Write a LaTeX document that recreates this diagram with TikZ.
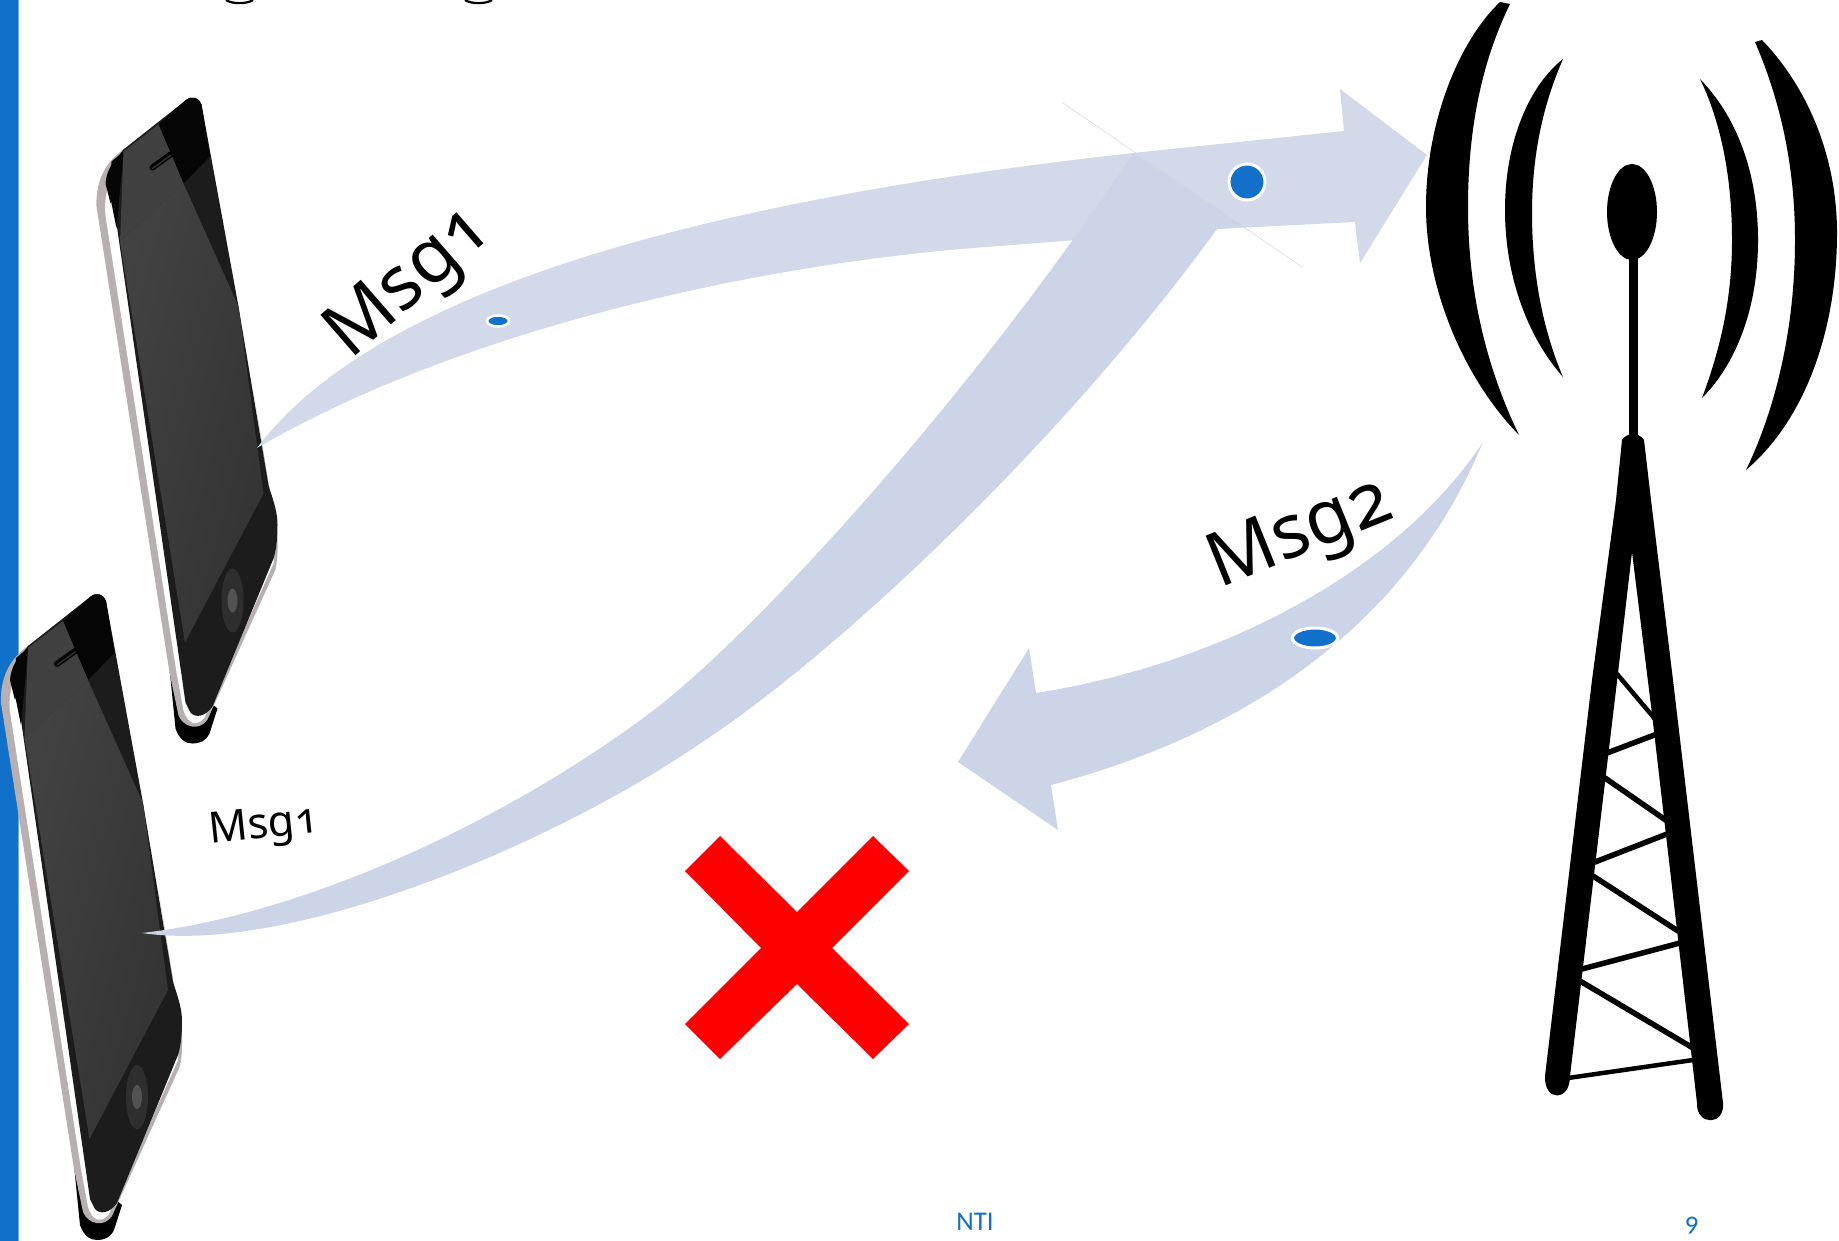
\documentclass[tikz,border=0pt]{standalone}
\usepackage{fontspec}
\setmainfont{Carlito}[Numbers=OldStyle]
\newfontfamily\msgfont{Noto Sans}[Numbers=OldStyle]
\usetikzlibrary{shapes.geometric}
\definecolor{slideblue}{HTML}{1170C9}
\definecolor{barlight}{HTML}{6AA8E4}
\definecolor{arrowA}{HTML}{D2D9E9}
\definecolor{arrowB}{HTML}{CCD5E8}
\definecolor{silver}{HTML}{B8B0B0}
\definecolor{facedark}{HTML}{1C1C1C}
\tikzset{
  msg/.style={inner sep=0pt,text=black,font=\msgfont\fontsize{75}{75}\selectfont},
  foot/.style={inner sep=0pt,text=slideblue,font=\fontsize{27}{27}\selectfont},
  blip/.style={ellipse,fill=slideblue,draw=white,inner sep=0pt,line width=3pt},
  strut/.style={line width=#1,line cap=round,black},
  phone/.pic={
    % black back
    \fill[black] (74,1165) -- (80,1225) .. controls (84,1236) and (90,1240) .. (97,1240)
      .. controls (104,1240) and (110,1238) .. (114,1230) -- (122,1205) -- cycle;
    % silver rim
    \fill[silver] (28,646) .. controls (8,660) and (0,680) .. (1,703) -- (74,1169)
      -- (83,1212) .. controls (88,1224) and (104,1228) .. (112,1216)
      -- (180,1066) .. controls (183,1050) and (183,1035) .. (180,1021) -- (160,900) -- (96,600) -- cycle;
    % white chrome
    \fill[white] (14,680) .. controls (10,690) and (9,700) .. (10,712) -- (81,1169)
      -- (88,1207) .. controls (93,1222) and (102,1223) .. (109,1214)
      -- (178,1060) -- (178,1021) -- (160,900) -- (96,600) -- cycle;
    % front face
    \fill[facedark] (28,646) -- (90,597) .. controls (97,591) and (104,595) .. (106,601)
      -- (143,803) -- (173,982) .. controls (179,1000) and (182,1010) .. (182,1021)
      .. controls (182,1040) and (180,1048) .. (178,1055)
      -- (117,1203) .. controls (110,1213) and (100,1215) .. (95,1209)
      -- (90,1199) -- (21,720) .. controls (15,690) and (10,668) .. (28,646) -- cycle;
    % upper black parts
    \fill[black!98] (63,621) -- (90,597) .. controls (97,591) and (104,595) .. (106,601)
      -- (114.5,653) -- (88,680) -- cycle;
    \fill[black!98] (16,658) -- (28,648) -- (21,725) -- (14,690) -- cycle;
    \fill[black!98] (10,680) .. controls (11,668) and (16,660) .. (22,654) -- (18,690) -- (15,700) -- cycle;
    % glass
    \fill[black!75] (28,648) -- (63,621) -- (88,680) -- (24.5,738) -- cycle;
    \shade[top color=black!74,middle color=black!69,bottom color=black!80,shading angle=75]
      (24.5,738) -- (88,680) -- (143,803) -- (168,990) -- (89.5,1139) -- cycle;
    % speaker
    \draw[line width=6pt,black,line cap=round] (57,664) -- (75,651);
    \draw[line width=1.6pt,black!82,line cap=round] (57,665) -- (75,652);
    % home button
    \fill[black!82] (137,1097) ellipse [x radius=11,y radius=32];
    \fill[black!68] (137,1097) ellipse [x radius=5,y radius=12];
  }
}
\begin{document}
\begin{tikzpicture}[x=1pt,y=-1pt]
  \useasboundingbox (0,0) rectangle (1839,1241);
  \fill[white] (0,0) rectangle (1839,1241);
  % side bar
  \fill[barlight] (0,0) rectangle (18.5,1241);
  \fill[slideblue] (0,0) rectangle (17.5,1241);
  % clipped title descenders
  \draw[line width=2.2pt,black] (226,0) .. controls (232,4.2) and (247,4.2) .. (253,0);
  \draw[line width=2.2pt,black] (465,0) .. controls (471,4.2) and (486,4.2) .. (492,0);
  % phones
  \pic at (0,0) {phone};
  \pic at (95.5,-496.5) {phone};
  % anchor points of the arrows
  \coordinate (tailA) at (257,448);
  \coordinate (tipA) at (1427,155);
  \coordinate (tailB) at (142,933);
  \coordinate (tailC) at (1483,442);
  \coordinate (tipC) at (958,762);
  % arrow 1
  \fill[arrowA] (tailA) .. controls (395,265) and (800,190) .. (1133,153)
    -- (1344,131) -- (1340,89) -- (tipA) -- (1360,263) -- (1355,222)
    -- (1217,229) -- (1000,246)
    .. controls (760,262) and (460,330) .. (tailA) -- cycle;
  % arrow 2
  \draw[arrowB,line width=0.5pt] (1063,103) -- (1302,267);
  \fill[arrowB] (tailB) .. controls (300,915) and (500,825) .. (650,713)
    .. controls (750,638) and (965,405) .. (1133,153)
    -- (1243,227) -- (1217,229)
    .. controls (1060,445) and (835,655) .. (701,743)
    .. controls (552,845) and (290,955) .. (tailB) -- cycle;
  % arrow 3
  \fill[arrowB] (tailC) .. controls (1395,575) and (1215,665) .. (1036,693)
    -- (1029,648) -- (tipC) -- (1058,830) -- (1051,785)
    .. controls (1240,735) and (1405,630) .. (tailC) -- cycle;
  % blips
  \node[blip,minimum width=22pt,minimum height=11pt,line width=2.5pt] (blipA) at (498,321) {};
  \node[blip,minimum width=36pt,minimum height=36pt] (blipB) at (1247,182) {};
  \node[blip,minimum width=45pt,minimum height=20pt] (blipC) at (1315,638) {};
  % labels
  \node[msg,rotate=41] (labelA) at (411,284) {Msg1};
  \node[msg,rotate=22] (labelC) at (1301,536) {Msg2};
  \node[msg,rotate=6,font=\msgfont\fontsize{43}{43}\selectfont] (labelB) at (264,828) {Msg1};
  \node[foot] (nti) at (975,1222) {NTI};
  \node[foot] (page) at (1692,1226) {9};
  % red cross
  \fill[red] (720,836) -- (797,912) -- (873,836) -- (909,871) -- (832,948) -- (909,1024)
    -- (873,1059) -- (797,984) -- (720,1059) -- (685,1024) -- (761,948) -- (685,871) -- cycle;
  % tower
  \fill[black] (1632,212) ellipse [x radius=25,y radius=48];
  \fill[black] (1628.5,255) rectangle (1637.5,445);
  \fill[black] (1622,440) .. controls (1627,432) and (1639,432) .. (1644,440)
    -- (1651,500) -- (1673,680) -- (1723,1103)
    .. controls (1725,1126) and (1696,1126) .. (1697,1103)
    -- (1652,714) -- (1632,552) -- (1618,673) -- (1570,1076)
    .. controls (1570,1102) and (1544,1102) .. (1545,1076)
    -- (1592,680) -- (1616,500) -- cycle;
  \draw[strut=4.5pt] (1617,674) -- (1655,719);
  \draw[strut=5.5pt] (1607,753) -- (1657,734);
  \draw[strut=5.5pt] (1605,778) -- (1667,821);
  \draw[strut=5.5pt] (1595,862) -- (1667,834);
  \draw[strut=5.5pt] (1593,876) -- (1678,931);
  \draw[strut=5.5pt] (1582,969) -- (1680,943);
  \draw[strut=5.5pt] (1580,981) -- (1693,1048);
  \draw[strut=4.5pt] (1568,1078) -- (1693,1060);
  % radio waves
  \fill[black] (1500,2) .. controls (1460,40) and (1426,120) .. (1426,207)
    .. controls (1426,290) and (1465,380) .. (1519,435)
    .. controls (1490,375) and (1468,300) .. (1468,207)
    .. controls (1468,120) and (1485,55) .. (1510,4) -- cycle;
  \fill[black] (1563,59) .. controls (1530,85) and (1505,140) .. (1505,210)
    .. controls (1505,280) and (1530,340) .. (1563,377)
    .. controls (1545,335) and (1532,280) .. (1532,213)
    .. controls (1532,150) and (1545,100) .. (1563,59) -- cycle;
  \fill[black] (1700,79) .. controls (1735,115) and (1758,170) .. (1758,240)
    .. controls (1758,310) and (1735,365) .. (1702,398)
    .. controls (1720,350) and (1732,300) .. (1732,240)
    .. controls (1732,175) and (1720,120) .. (1700,79) -- cycle;
  \fill[black] (1755,42) -- (1762,40) .. controls (1810,90) and (1837,160) .. (1837,233)
    .. controls (1837,330) and (1805,420) .. (1746,470)
    .. controls (1775,410) and (1795,330) .. (1795,240)
    .. controls (1795,165) and (1780,100) .. (1755,42) -- cycle;
\end{tikzpicture}
\end{document}
